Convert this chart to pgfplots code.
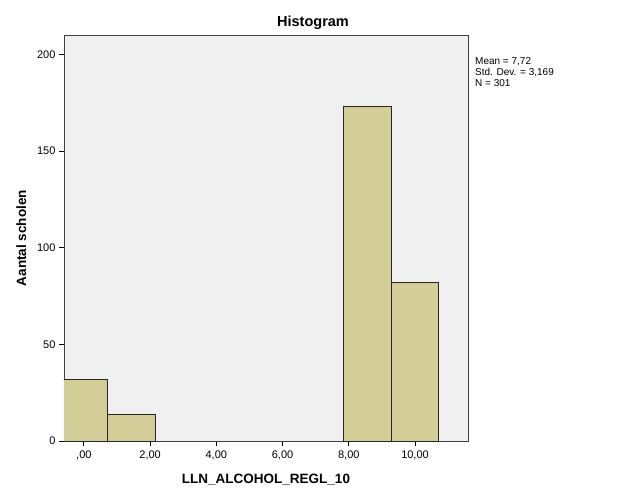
\documentclass[border=0pt]{standalone}
\usepackage{pgfplots}
\pgfplotsset{compat=1.18}
\usepackage{fontspec}
\setmainfont{Liberation Sans}
\definecolor{plotbg}{RGB}{240,240,240}
\definecolor{barfill}{RGB}{211,206,152}
\begin{document}
\begin{tikzpicture}[x=1pt,y=1pt]
\path[use as bounding box, fill=white] (-64,-60) rectangle (562,441);
\begin{axis}[
  scale only axis,
  width=404pt, height=406pt,
  xmin=-0.6, xmax=11.6,
  ymin=0, ymax=210,
  axis background/.style={fill=plotbg},
  axis line style={black!75, line width=0.8pt},
  xtick={0,2,4,6,8,10},
  xticklabels={{,00},{2,00},{4,00},{6,00},{8,00},{10,00}},
  ytick={0,50,100,150,200},
  tick align=outside,
  tick pos=left,
  major tick length=5pt,
  tick style={black, line width=0.8pt},
  ticklabel style={font=\fontsize{11}{13}\selectfont},
  xticklabel style={yshift=-1pt},
  /pgf/number format/assume math mode=true,
  xlabel={LLN\_ALCOHOL\_REGL\_10},
  ylabel={Aantal scholen},
  xlabel style={font=\fontsize{13.5}{15}\selectfont\bfseries, yshift=-8pt},
  ylabel style={font=\fontsize{13.5}{15}\selectfont\bfseries, yshift=4pt},
  clip=true,
]
\addplot[ybar interval, fill=barfill, draw=black!85, line width=0.8pt]
  coordinates {(-0.70,32) (0.725,14) (2.15,0)};
\addplot[ybar interval, fill=barfill, draw=black!85, line width=0.8pt]
  coordinates {(7.85,173) (9.275,82) (10.70,0)};
\end{axis}
\node[font=\fontsize{14.5}{16}\selectfont\bfseries] at (249,418) {Histogram};
\node[anchor=north west, align=left, font=\fontsize{10}{11}\selectfont, inner sep=0pt] at (411,384)
  {Mean = 7,72\\Std. Dev. = 3,169\\N = 301};
\end{tikzpicture}
\end{document}
